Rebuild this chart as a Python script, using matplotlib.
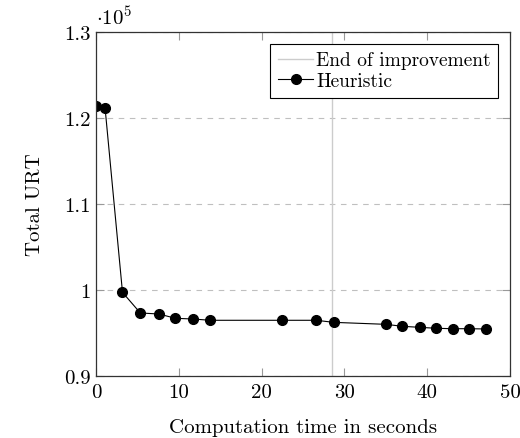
import numpy as np
import matplotlib
matplotlib.use("Agg")
from matplotlib import pyplot as plt

plt.rcParams['font.family'] = 'serif'
plt.rcParams['font.serif'] = ['cmr10']
plt.rcParams['mathtext.fontset'] = 'cm'
plt.rcParams['axes.formatter.use_mathtext'] = True

# heuristic run: time (s) vs total URT
time_s = [0.0, 1.1, 3.2, 5.35, 7.6, 9.6, 11.7, 13.8, 22.5, 26.6, 28.7,
          35.0, 37.0, 39.1, 41.1, 43.1, 45.1, 47.1]
urt = [121430, 121130, 99730, 97330, 97210, 96710, 96630, 96480, 96480,
       96480, 96240, 96010, 95780, 95660, 95550, 95500, 95500, 95470]
end_improvement = 28.5

yticks = [90000, 100000, 110000, 120000, 130000]
ytick_labels = ['0.9', '1', '1.1', '1.2', '1.3']
xticks = [0, 10, 20, 30, 40, 50]

fs = 15

fig = plt.figure(figsize=(5.2, 4.39), dpi=100)
ax = fig.add_axes([0.1846, 0.1412, 0.7962, 0.7836])

ax.axvline(end_improvement, color='0.8', lw=1.0, label='End of improvement')
ax.plot(time_s, urt, color='black', lw=0.8, marker='o', ms=7.0,
        label='Heuristic')

ax.set_xlim(0, 50)
ax.set_ylim(90000, 130000)
ax.set_xticks(xticks)
ax.set_xticklabels([str(t) for t in xticks])
ax.set_yticks(yticks)
ax.set_yticklabels(ytick_labels)
ax.yaxis.grid(True, color='0.75', ls=(0, (5, 5)), lw=0.8)
ax.tick_params(direction='in', length=6, width=0.8, color='0.6',
               top=True, right=True, labelsize=fs)
ax.tick_params(axis='x', pad=5)
ax.tick_params(axis='y', pad=4)
for s in ax.spines.values():
    s.set_linewidth(0.9)
    s.set_color('0.2')

ax.set_xlabel('Computation time in seconds', fontsize=fs, labelpad=12)
ax.set_ylabel('Total URT', fontsize=fs, labelpad=14)
ax.text(0.0, 1.01, r'$\cdot 10^5$', transform=ax.transAxes, fontsize=fs,
        ha='left', va='bottom')

leg = ax.legend(loc='upper right', fontsize=14, frameon=True, fancybox=False,
                edgecolor='black', framealpha=1, handlelength=1.8,
                borderaxespad=0.6, borderpad=0.4, labelspacing=0.15,
                handletextpad=0.15)
leg.get_frame().set_linewidth(0.8)

fig.savefig('out.png', dpi=100)
